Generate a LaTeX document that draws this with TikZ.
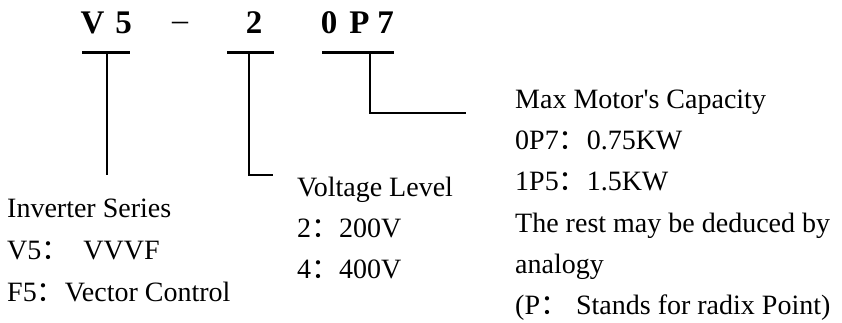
\documentclass[tikz,border=0pt]{standalone}
\usepackage{fontspec}
\setmainfont{Liberation Serif}[Ligatures=TeXOff]
\newfontfamily\cjk{Noto Sans CJK SC}
\begin{document}
\begin{tikzpicture}[x=1pt,y=-1pt,
  titlech/.style={font=\fontsize{33}{38}\selectfont\bfseries, inner sep=0pt, anchor=base},
  dashch/.style={font=\fontsize{32}{38}\selectfont, inner sep=0pt, anchor=base},
  txt/.style={font=\fontsize{28}{34}\selectfont, inner sep=0pt, anchor=base west},
  bar/.style={line width=3pt},
  lead/.style={line width=2.5pt}]
\useasboundingbox (0,0) rectangle (842,322);
% title
\node[titlech] (tV) at (92.5,33) {V};
\node[titlech] (t5) at (123.5,33) {5};
\node[dashch] (tdash) at (180,30) {–};
\node[titlech] (t2) at (254,33) {2};
\node[titlech] (t0) at (329,33) {0};
\node[titlech] (tP) at (359.5,33) {P};
\node[titlech] (t7) at (385.5,33) {7};
% bars and leads
\coordinate (b1l) at (82,52);  \coordinate (b1r) at (130,52); \coordinate (b1m) at (107,52);
\coordinate (e1) at (107,175);
\coordinate (b2l) at (227,52); \coordinate (b2r) at (274,52); \coordinate (b2m) at (249,52);
\coordinate (e2) at (273,175);
\coordinate (b3l) at (322,52); \coordinate (b3r) at (394,52); \coordinate (b3m) at (370,52);
\coordinate (e3) at (466,113);
\draw[bar] (b1l) -- (b1r);
\draw[bar] (b2l) -- (b2r);
\draw[bar] (b3l) -- (b3r);
\draw[lead] (b1m) -- (e1);
\draw[lead] (b2m) |- (e2);
\draw[lead] (b3m) |- (e3);
% left block
\node[txt] (l1) at (7,217) {Inverter Series};
\node[txt] (l2) at (7,259) {V5{\cjk ：}\hspace{14pt}VVVF};
\node[txt] (l3) at (7,301) {F5{\cjk ：}Vector Control};
% middle block
\node[txt] (m1) at (297,196) {Voltage Level};
\node[txt] (m2) at (297,237) {2{\cjk ：}200V};
\node[txt] (m3) at (297,278) {4{\cjk ：}400V};
% right block
\node[txt] (r1) at (515,108) {Max Motor's Capacity};
\node[txt] (r2) at (515,149) {0P7{\cjk ：}0.75KW};
\node[txt] (r3) at (515,190) {1P5{\cjk ：}1.5KW};
\node[txt] (r4) at (515,232) {The rest may be deduced by};
\node[txt] (r5) at (515,273) {analogy};
\node[txt] (r6) at (515,314) {(P{\cjk ：}\hspace{8pt}Stands for radix Point)};
\end{tikzpicture}
\end{document}
